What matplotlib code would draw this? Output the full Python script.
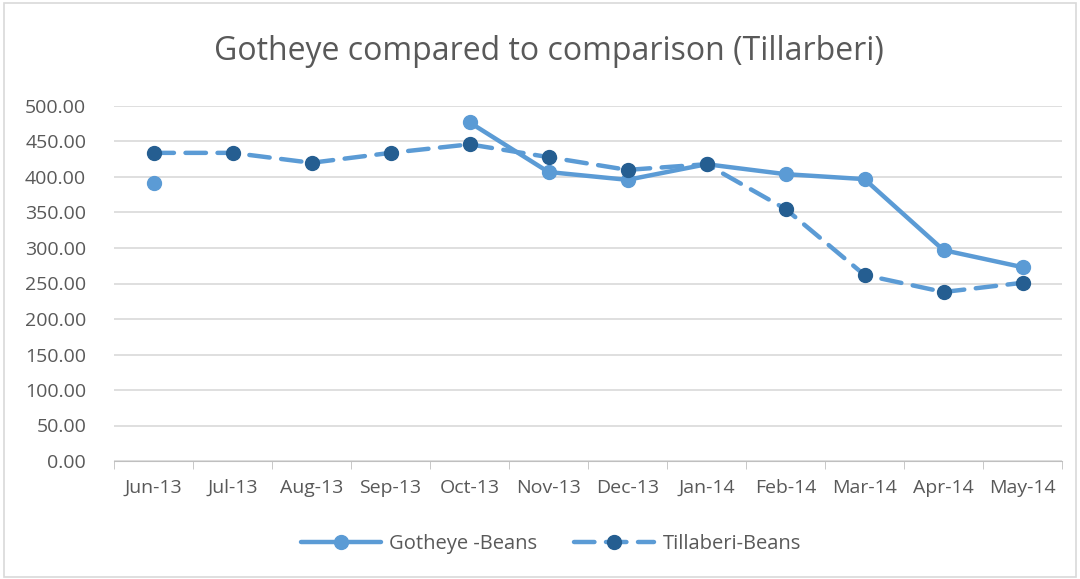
import numpy as np
import matplotlib
matplotlib.use("Agg")
import matplotlib.pyplot as plt
from matplotlib.patches import Rectangle

months = ["Jun-13", "Jul-13", "Aug-13", "Sep-13", "Oct-13", "Nov-13",
          "Dec-13", "Jan-14", "Feb-14", "Mar-14", "Apr-14", "May-14"]
gotheye = [391, np.nan, np.nan, np.nan, 477, 407, 396, 418, 404, 397, 297, 273]
tillaberi = [434, 434, 420, 434, 446, 428, 410, 418, 355, 262, 238, 251]

plt.rcParams['font.family'] = ['Open Sans', 'DejaVu Sans']
grey = '#595959'

fig = plt.figure(figsize=(10.8, 5.79), dpi=100)
fig.patches.append(Rectangle((0.004, 0.004), 0.992, 0.99, transform=fig.transFigure,
                             fill=False, edgecolor='#d9d9d9', linewidth=1.2))
ax = fig.add_axes([114 / 1080, 1 - 461 / 579, 948 / 1080, 355 / 579])

x = np.arange(len(months))
g = np.array(gotheye, dtype=float)
ax.plot(x, g, color='#5b9bd5', lw=3.2, marker='o', ms=10, solid_capstyle='round',
        label='Gotheye -Beans', zorder=3)
ax.plot(x, tillaberi, color='#5b9bd5', lw=3.2, ls=(0, (4.6, 2.6)), dash_capstyle='round',
        marker='o', ms=10, mfc='#255e91', mec='#255e91',
        label='Tillaberi-Beans', zorder=4)

ax.set_xlim(-0.5, len(months) - 0.5)
ax.set_ylim(0, 500)
ax.set_yticks(np.arange(0, 501, 50))
ax.set_yticklabels([f"{v:.2f}" for v in np.arange(0, 501, 50)])
ax.set_xticks(x)
ax.set_xticklabels(months)
ax.set_xticks(np.arange(-0.5, len(months), 1), minor=True)
ax.tick_params(axis='x', which='major', length=0, pad=13, labelsize=14, labelcolor=grey)
ax.tick_params(axis='x', which='minor', length=6, color='#bfbfbf')
ax.tick_params(axis='y', length=0, pad=20, labelsize=14, labelcolor=grey)
ax.grid(axis='y', color='#d9d9d9', lw=1.2)
ax.set_axisbelow(True)
for s in ['top', 'right', 'left']:
    ax.spines[s].set_visible(False)
ax.spines['bottom'].set_color('#bfbfbf')

fig.text(549 / 1080, 1 - 52 / 579, "Gotheye compared to comparison (Tillarberi)",
         ha='center', va='center', fontsize=23, color=grey)
fig.legend(loc='center', bbox_to_anchor=(0.51, 1 - 544 / 579), ncol=2, frameon=False,
           fontsize=14.5, labelcolor=grey, handlelength=4.0, handletextpad=0.4,
           columnspacing=1.8)

fig.savefig("out.png", dpi=100)
